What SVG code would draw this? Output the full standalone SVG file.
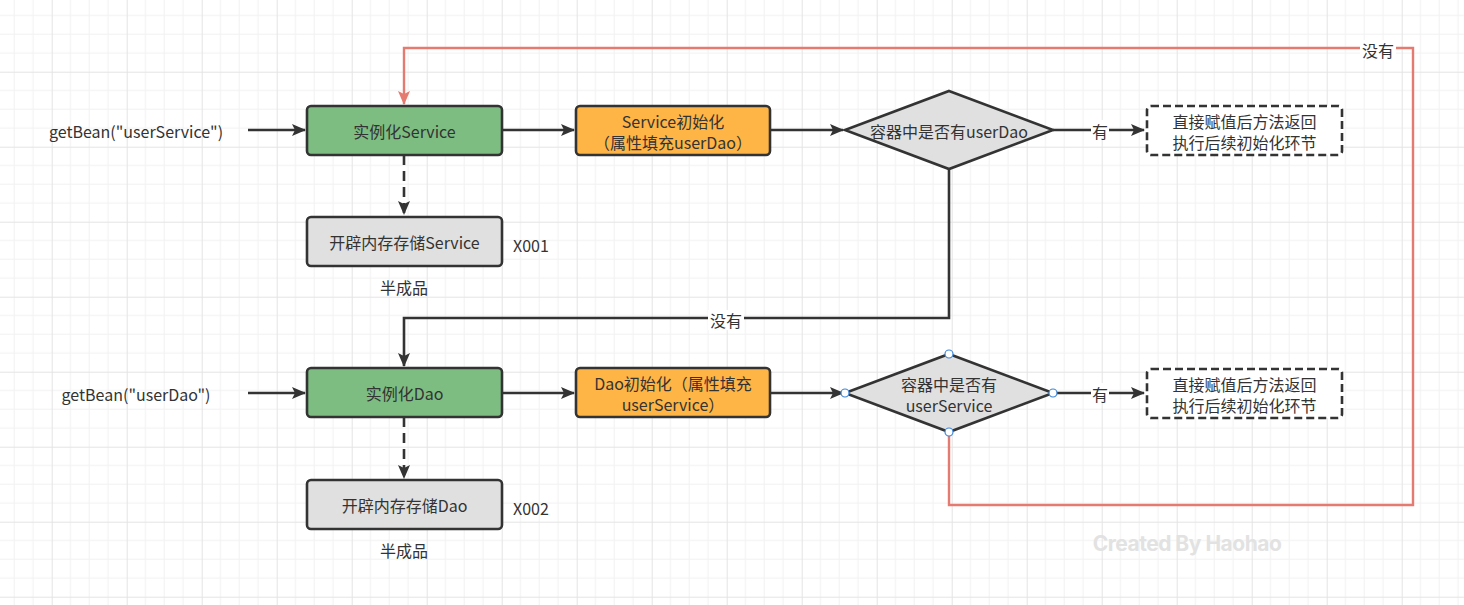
<svg xmlns="http://www.w3.org/2000/svg" width="1464" height="605" viewBox="0 0 1464 605">
<style>
.t{font-family:"Microsoft YaHei","Noto Sans CJK SC","Noto Sans",sans-serif;font-size:16px;fill:#333;text-anchor:middle;dominant-baseline:central}
.tl{font-family:"Microsoft YaHei","Noto Sans CJK SC","Noto Sans",sans-serif;font-size:16px;fill:#333;dominant-baseline:central}
.box{stroke:#333;stroke-width:2.6}
.c{fill:none;stroke:#333;stroke-width:2.6}
.r{fill:none;stroke:#e57b70;stroke-width:2.4}
.lbl{fill:#fff}
.h{fill:#fff;stroke:#3b86d8;stroke-width:1.2}
</style>
<defs>
<pattern id="grid" patternUnits="userSpaceOnUse" x="51.7" y="71.7" width="75" height="75">
<path d="M18.75 0V75M37.5 0V75M56.25 0V75M0 18.75H75M0 37.5H75M0 56.25H75" stroke="#f1f1f1" stroke-width="1" fill="none"/>
<path d="M0.5 0V75M0 0.5H75" stroke="#e4e4e4" stroke-width="1" fill="none"/>
</pattern>
<marker id="a" markerWidth="14" markerHeight="12" refX="13" refY="6" orient="auto" markerUnits="userSpaceOnUse">
<path d="M0 0L14 6L0 12L3 6Z" fill="#333"/>
</marker>
<marker id="ar" markerWidth="14" markerHeight="12" refX="13" refY="6" orient="auto" markerUnits="userSpaceOnUse">
<path d="M0 0L14 6L0 12L3 6Z" fill="#e57b70"/>
</marker>
</defs>
<rect width="1464" height="605" fill="#fff"/>
<rect width="1464" height="605" fill="url(#grid)"/>

<g id="connectors">
<path class="r" d="M949 432V505H1413V48H404V104" marker-end="url(#ar)"/>
<rect class="lbl" x="1360" y="40" width="36" height="20"/>
<text class="t" x="1378" y="50">没有</text>
<path class="c" d="M248 130H305" marker-end="url(#a)"/>
<path class="c" d="M502 130H574" marker-end="url(#a)"/>
<path class="c" d="M770 130H843" marker-end="url(#a)"/>
<path class="c" d="M1053 130H1144" marker-end="url(#a)"/>
<rect class="lbl" x="1091" y="120" width="18" height="20"/>
<text class="t" x="1100" y="131">有</text>
<path class="c" d="M404 155V214" stroke-dasharray="10,6" marker-end="url(#a)"/>
<path class="c" d="M949 169V318H404V366" marker-end="url(#a)"/>
<rect class="lbl" x="708" y="310" width="36" height="20"/>
<text class="t" x="726" y="320">没有</text>
<path class="c" d="M248 393H305" marker-end="url(#a)"/>
<path class="c" d="M502 393H574" marker-end="url(#a)"/>
<path class="c" d="M770 393H843" marker-end="url(#a)"/>
<path class="c" d="M1053 393H1144" marker-end="url(#a)"/>
<rect class="lbl" x="1091" y="383" width="18" height="20"/>
<text class="t" x="1100" y="394">有</text>
<path class="c" d="M404 417V478" stroke-dasharray="10,6" marker-end="url(#a)"/>
</g>

<g id="getBeanService"><text class="t" x="136" y="131">getBean("userService")</text></g>
<g id="instService">
<rect class="box" x="307" y="106" width="195" height="49" rx="4" fill="#7dbd82"/>
<text class="t" x="404.5" y="131">实例化Service</text>
</g>
<g id="initService">
<rect class="box" x="576" y="106" width="194" height="49" rx="4" fill="#ffb545"/>
<text class="t" x="673" y="121">Service初始化<tspan x="673" dy="21">（属性填充userDao）</tspan></text>
</g>
<g id="memService">
<rect class="box" x="307" y="217" width="195" height="49" rx="4" fill="#e0e0e0"/>
<text class="t" x="404.5" y="242">开辟内存存储Service</text>
</g>
<g id="x001"><text class="tl" x="513" y="245">X001</text></g>
<g id="half1"><text class="t" x="404" y="287">半成品</text></g>
<g id="checkDao">
<path class="box" d="M949 91L1053 130L949 169L845 130Z" fill="#e0e0e0"/>
<text class="t" x="949" y="131">容器中是否有userDao</text>
</g>
<g id="return1">
<rect class="box" x="1147" y="106" width="195" height="49" rx="4" fill="#fff" stroke-dasharray="8,4"/>
<text class="t" x="1244.5" y="121">直接赋值后方法返回<tspan x="1244.5" dy="21">执行后续初始化环节</tspan></text>
</g>

<g id="getBeanDao"><text class="t" x="136" y="394">getBean("userDao")</text></g>
<g id="instDao">
<rect class="box" x="307" y="368" width="195" height="49" rx="4" fill="#7dbd82"/>
<text class="t" x="404.5" y="393">实例化Dao</text>
</g>
<g id="initDao">
<rect class="box" x="576" y="368" width="194" height="49" rx="4" fill="#ffb545"/>
<text class="t" x="673" y="382.5">Dao初始化（属性填充<tspan x="673" dy="21">userService）</tspan></text>
</g>
<g id="memDao">
<rect class="box" x="307" y="480" width="195" height="49" rx="4" fill="#e0e0e0"/>
<text class="t" x="404.5" y="505">开辟内存存储Dao</text>
</g>
<g id="x002"><text class="tl" x="513" y="508">X002</text></g>
<g id="half2"><text class="t" x="404" y="550">半成品</text></g>
<g id="checkService">
<path class="box" d="M949 354L1053 393L949 432L845 393Z" fill="#e0e0e0"/>
<text class="t" x="949" y="383.5">容器中是否有<tspan x="949" dy="21">userService</tspan></text>
<circle class="h" cx="949" cy="354" r="4"/>
<circle class="h" cx="1053" cy="393" r="4"/>
<circle class="h" cx="949" cy="432" r="4"/>
<circle class="h" cx="845" cy="393" r="4"/>
</g>
<g id="return2">
<rect class="box" x="1147" y="369" width="195" height="49" rx="4" fill="#fff" stroke-dasharray="8,4"/>
<text class="t" x="1244.5" y="383.5">直接赋值后方法返回<tspan x="1244.5" dy="21">执行后续初始化环节</tspan></text>
</g>
<g id="watermark"><text x="1187" y="543" font-family="Inter,'Noto Sans',sans-serif" font-size="21" font-weight="bold" fill="#e2e2e2" text-anchor="middle" dominant-baseline="central" letter-spacing="-0.5">Created By Haohao</text></g>
</svg>
